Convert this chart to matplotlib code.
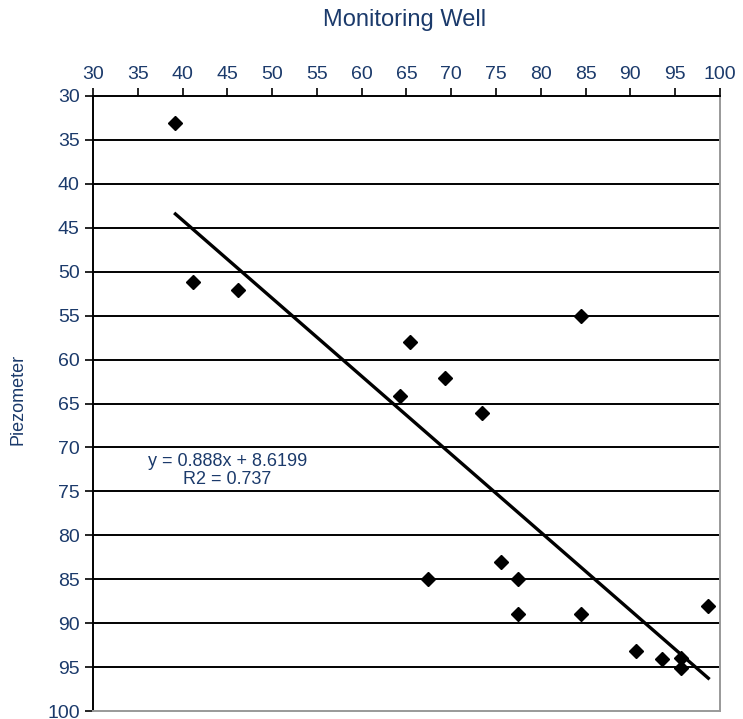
import matplotlib.pyplot as plt
import numpy as np

# data
well = [39.2, 41.2, 46.2, 84.5, 65.4, 69.3, 64.3, 73.4, 67.4, 75.6,
        77.4, 77.4, 84.5, 98.7, 90.6, 93.5, 95.7, 95.6]
piezo = [33.1, 51.2, 52.1, 55.0, 58.0, 62.1, 64.1, 66.1, 85.0, 83.0,
         85.0, 89.0, 89.0, 88.0, 93.2, 94.1, 94.0, 95.1]
slope, intercept = 0.888, 8.6199
ticks = list(range(30, 101, 5))

navy = '#1b3a6b'
plt.rcParams['font.family'] = ['Liberation Sans', 'DejaVu Sans']


def main():
    fig = plt.figure(figsize=(7.43, 7.19), dpi=100)
    ax = fig.add_axes([0.1252, 0.0111, 0.8438, 0.8554])

    ax.set_xlim(30, 100)
    ax.set_ylim(100, 30)             # inverted
    ax.xaxis.tick_top()
    ax.set_xticks(ticks)
    ax.set_yticks(ticks)
    ax.tick_params(direction='out', length=6, width=1.2, colors='black',
                   labelcolor=navy, labelsize=14)
    ax.tick_params(axis='x', pad=3)

    for v in ticks[1:-1]:            # horizontal grid
        ax.axhline(v, color='black', lw=1.4, zorder=1)

    for side in ('top', 'left'):
        ax.spines[side].set_color('black')
        ax.spines[side].set_linewidth(1.4)
    for side in ('right', 'bottom'):
        ax.spines[side].set_color('#999999')
        ax.spines[side].set_linewidth(1.4)

    ax.plot(well, piezo, 'D', color='black', ms=7, zorder=3)

    xs = np.array([min(well), max(well)])
    ax.plot(xs, slope * xs + intercept, color='black', lw=2.4, zorder=2)

    ax.text(45.0, 72.6, 'y = 0.888x + 8.6199\nR2 = 0.737', ha='center',
            va='center', multialignment='center', color=navy, fontsize=13,
            linespacing=1.05)

    fig.text(0.545, 0.972, 'Monitoring Well', ha='center', va='center',
             color=navy, fontsize=17)
    fig.text(0.024, 0.445, 'Piezometer', ha='center', va='center',
             rotation=90, color=navy, fontsize=13)

    fig.savefig('out.png', dpi=100)


if __name__ == "__main__":
    main()
